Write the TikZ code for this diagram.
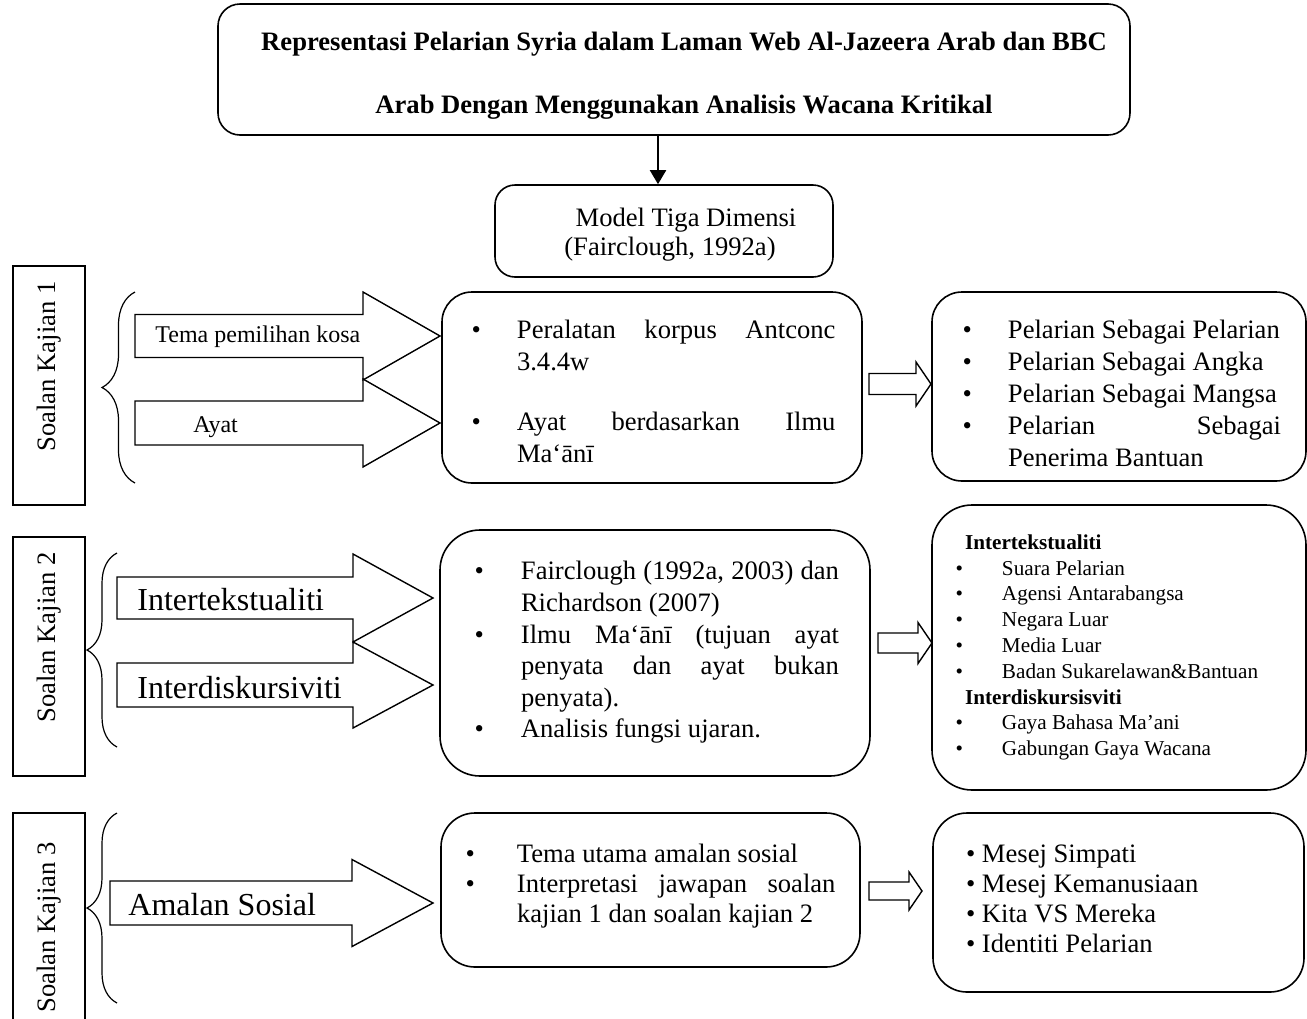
\documentclass[tikz,border=0pt]{standalone}
\usepackage{fontspec}
\setmainfont{Liberation Serif}
\usetikzlibrary{arrows.meta,decorations.pathreplacing}

\newlength{\bhang}
\newlength{\bgap}
\newcommand{\bitem}[1]{\par\hangindent=\bhang\hangafter=0\noindent\llap{\textbullet\hspace{\bgap}}#1\par}
\newcommand{\blockarrow}[6]{%
  \draw[blockarr] (#1,#4-#5) -- (#2,#4-#5) -- (#2,#4-#6) -- (#3,#4) -- (#2,#4+#6) -- (#2,#4+#5) -- (#1,#4+#5) -- cycle;}
\newcommand{\deep}[1]{\rule[-#1]{0pt}{#1}}

\begin{document}
\begin{tikzpicture}[x=0.5pt,y=-0.5pt,
  tbox/.style={draw, line width=0.8pt, rounded corners=#1, inner ysep=0pt, align=justify},
  tbox/.default=15pt,
  qbox/.style={draw, line width=0.8pt, rotate=90, minimum width=119.5pt, minimum height=36pt, font=\fontsize{13.3}{16}\selectfont},
  blockarr/.style={draw, fill=white, line width=0.7pt, line join=miter},
  lbl/.style={anchor=base west, inner sep=0pt},
  brc/.style={decorate, decoration={brace, amplitude=#1}, line width=0.6pt},
  bullets/.style 2 args={execute at begin node={\setlength{\bhang}{#1}\setlength{\bgap}{#2}\hyphenpenalty=10000 }},
  big/.style={font=\fontsize{16}{19}\selectfont}
]
\useasboundingbox (0,0) rectangle (1307,1018);
\clip (0,0) rectangle (1307,1018);

% title and model
\node[tbox=11pt, minimum width=456pt, minimum height=65.5pt, text width=440pt, inner xsep=8pt, font=\bfseries\fontsize{13.3}{31.5}\selectfont] (title) at (674,69.5)
  {\centering\rule{0pt}{15.3pt}\hspace*{10pt}Representasi Pelarian Syria dalam Laman Web Al-Jazeera Arab dan BBC\\ \hspace*{10pt}Arab Dengan Menggunakan Analisis Wacana Kritikal\par};
\node[tbox=10pt, minimum width=169pt, minimum height=46pt, text width=160pt, inner xsep=4.5pt, font=\fontsize{13.3}{14.5}\selectfont] (mdl) at (664,231)
  {\centering\rule{0pt}{13.1pt}\hspace*{22pt}Model Tiga Dimensi\\ \hspace*{6pt}(Fairclough, 1992a)\par};
\coordinate (arrx) at (658,0);
\draw[line width=1pt, -{Triangle[width=8pt,length=7pt]}] (title.south -| arrx) -- (mdl.north -| arrx);

% soalan kajian 1
\node[qbox] (q1) at (49,385.5) {\hspace*{19pt}Soalan Kajian 1};
\draw[brc=16.5pt] (135,483) -- (135,292);
\blockarrow{135}{363}{440}{336}{21.5}{44}
\blockarrow{135}{363}{440}{423}{22}{44}
\node[lbl, font=\fontsize{12}{14}\selectfont] (tema) at (155,342) {Tema pemilihan kosa};
\node[lbl, font=\fontsize{12}{14}\selectfont] (ayat) at (193,432) {Ayat};
\node[tbox=15pt, minimum width=210pt, minimum height=95.5pt, text width=183.5pt, inner xsep=13.25pt,
  bullets={24.25pt}{18pt}, font=\fontsize{13.3}{16}\selectfont] (m1) at (652,387.5)
  {\bitem{Peralatan korpus Antconc\linebreak 3.4.4w}\vspace{14pt}\bitem{Ayat berdasarkan Ilmu\linebreak Ma‘ānī\deep{3pt}}};
\node[tbox=15pt, minimum width=187pt, minimum height=94.5pt, text width=162pt, inner xsep=12.5pt,
  bullets={25.5pt}{18pt}, font=\fontsize{13.3}{16}\selectfont] (r1) at (1119,386.5)
  {\bitem{Pelarian Sebagai Pelarian}\bitem{Pelarian Sebagai Angka}\bitem{Pelarian Sebagai Mangsa}\bitem{Pelarian Sebagai\linebreak Penerima Bantuan}};
\blockarrow{869}{916}{931}{384}{10.5}{22}

% soalan kajian 2
\node[qbox] (q2) at (49,656.5) {\hspace*{19pt}Soalan Kajian 2};
\draw[brc=15pt] (117,747) -- (117,553);
\blockarrow{117}{353}{433}{598}{21}{44}
\blockarrow{117}{353}{433}{685}{22}{43}
\node[lbl, big] (intert) at (137,610) {Intertekstualiti};
\node[lbl, big] (interd) at (137,698) {Interdiskursiviti};
\node[tbox=20pt, minimum width=215pt, minimum height=123pt, text width=184pt, inner xsep=15.5pt,
  bullets={25pt}{18.5pt}, font=\fontsize{13.3}{15.8}\selectfont] (m2) at (655,653)
  {\bitem{Fairclough (1992a, 2003) dan\linebreak Richardson (2007)}\bitem{Ilmu Ma‘ānī (tujuan ayat\linebreak penyata dan ayat bukan\linebreak penyata).}\bitem{Analisis fungsi ujaran.\deep{10pt}}};
\node[tbox=20pt, minimum width=187pt, minimum height=142.5pt, text width=164pt, inner xsep=11.5pt,
  bullets={23.5pt}{19.5pt}, font=\fontsize{10.6}{12.9}\selectfont] (r2) at (1119,647.5)
  {\noindent\hspace*{5pt}\textbf{Intertekstualiti}\bitem{Suara Pelarian}\bitem{Agensi Antarabangsa}\bitem{Negara Luar}\bitem{Media Luar}\bitem{Badan Sukarelawan\&Bantuan}
   \noindent\hspace*{5pt}\textbf{Interdiskursisviti}\bitem{Gaya Bahasa Ma’ani}\bitem{Gabungan Gaya Wacana}};
\blockarrow{878}{918}{932}{643}{10}{20.5}

% soalan kajian 3
\node[qbox, minimum width=118.5pt] (q3) at (49,931.5) {\hspace*{4pt}Soalan Kajian 3};
\draw[brc=15pt] (117,1003) -- (117,813);
\blockarrow{110}{352}{433}{903}{22}{43.5}
\node[lbl, big] (amalan) at (128,915) {Amalan Sosial};
\node[tbox=17pt, minimum width=209.5pt, minimum height=77pt, text width=185pt, inner xsep=12.25pt,
  bullets={25.75pt}{21pt}, font=\fontsize{13.3}{15}\selectfont] (m3) at (650.5,890)
  {\bitem{Tema utama amalan sosial}\bitem{Interpretasi jawapan soalan\linebreak kajian 1 dan soalan kajian 2\deep{13pt}}};
\node[tbox=17pt, minimum width=185.5pt, minimum height=89.5pt, text width=152.5pt, inner xsep=16.5pt,
  font=\fontsize{13.3}{15}\selectfont] (r3) at (1118.5,902.5)
  {\noindent\textbullet{} Mesej Simpati\par\noindent\textbullet{} Mesej Kemanusiaan\par\noindent\textbullet{} Kita VS Mereka\par\noindent\textbullet{} Identiti Pelarian\deep{4pt}\par};
\blockarrow{869}{909}{922}{891}{9}{19}
\end{tikzpicture}
\end{document}
